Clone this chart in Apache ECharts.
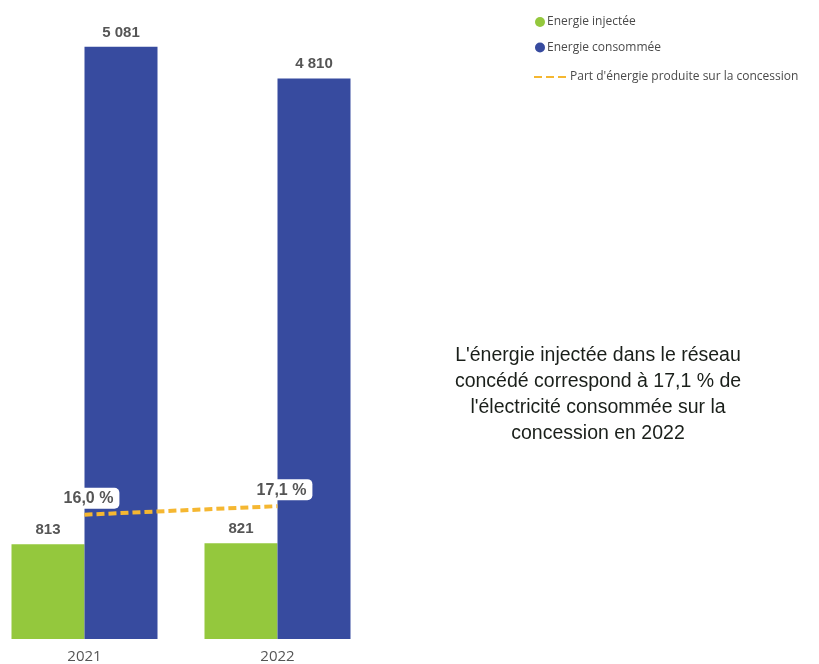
<!DOCTYPE html>
<html>
<head>
<meta charset="utf-8">
<script src="https://cdn.jsdelivr.net/npm/echarts@6/dist/echarts.min.js"></script>
<style>
html,body{margin:0;padding:0;background:#fff;overflow:hidden;}
#c{width:831px;height:664px;margin-left:-12px;}
</style>
</head>
<body>
<div id="c"></div>
<script>
var categories = ['2021', '2022'];
var injected = [813, 821];
var consumed = [5081, 4810];
var share = [16.0, 17.1];

function fmtThousands(v) {
  return String(v).replace(/\B(?=(\d{3})+(?!\d))/g, ' ');
}
function fmtPct(v) {
  return v.toFixed(1).replace('.', ',') + ' %';
}

var chart = echarts.init(document.getElementById('c'));
chart.setOption({
  animation: false,
  backgroundColor: '#ffffff',
  grid: { left: 0, width: 386, top: 33, bottom: 24, containLabel: false },
  legend: [
    {
      orient: 'vertical', left: 542, top: 11, itemGap: 13.5,
      itemWidth: 10, itemHeight: 10, icon: 'circle',
      data: ['Energie injectée', 'Energie consommée'],
      textStyle: { color: '#4a4a4a', fontSize: 12, fontFamily: 'Open Sans', padding: [0, 0, 0, -3] }
    },
    {
      orient: 'vertical', left: 540, top: 66,
      itemWidth: 34, itemHeight: 12,
      data: [{ name: 'Part d\'énergie produite sur la concession', itemStyle: { opacity: 0 } }],
      textStyle: { color: '#4a4a4a', fontSize: 12, fontFamily: 'Open Sans', padding: [0, 0, 0, -3] }
    }
  ],
  xAxis: {
    type: 'category', data: categories,
    axisLine: { show: false }, axisTick: { show: false },
    axisLabel: { color: '#555', fontSize: 15, fontFamily: 'Open Sans', margin: 10 }
  },
  yAxis: [
    { type: 'value', min: 0, max: 5200, show: false, splitLine: { show: false } },
    { type: 'value', min: 0, max: 78, show: false, splitLine: { show: false } }
  ],
  series: [
    {
      name: 'Energie injectée', type: 'bar', data: injected,
      barWidth: 73, barGap: '0%',
      itemStyle: { color: '#94C83D' },
      label: { show: true, position: 'top', distance: 7, color: '#555', fontSize: 15, fontWeight: 'bold', fontFamily: 'Liberation Sans', formatter: function (p) { return fmtThousands(p.value); } }
    },
    {
      name: 'Energie consommée', type: 'bar', data: consumed,
      barWidth: 73, barGap: '0%',
      itemStyle: { color: '#374B9F' },
      label: { show: true, position: 'top', distance: 7, color: '#555', fontSize: 15, fontWeight: 'bold', fontFamily: 'Liberation Sans', formatter: function (p) { return fmtThousands(p.value); } }
    },
    {
      name: 'Part d\'énergie produite sur la concession', type: 'line', yAxisIndex: 1, data: share,
      z: 10, symbol: 'circle', symbolSize: 0.01, showSymbol: true,
      itemStyle: { color: '#F5B731' },
      lineStyle: { color: '#F5B731', width: 4, type: [8, 4] },
      label: {
        show: true, position: 'top', distance: 6, offset: [4, 0],
        color: '#555', fontSize: 16, fontWeight: 'bold', fontFamily: 'Liberation Sans',
        backgroundColor: '#ffffff', borderRadius: 5, padding: [3, 6, 2, 6],
        formatter: function (p) { return fmtPct(p.value); }
      }
    }
  ],
  graphic: [
    {
      type: 'text', x: 610, y: 343, z: 20,
      style: {
        text: "L'énergie injectée dans le réseau\nconcédé correspond à 17,1 % de\nl'électricité consommée sur la\nconcession en 2022",
        fill: '#1a1f1a', font: '19.5px "Liberation Sans"', lineHeight: 26, align: 'center', verticalAlign: 'top'
      }
    }
  ]
});
</script>
</body>
</html>
